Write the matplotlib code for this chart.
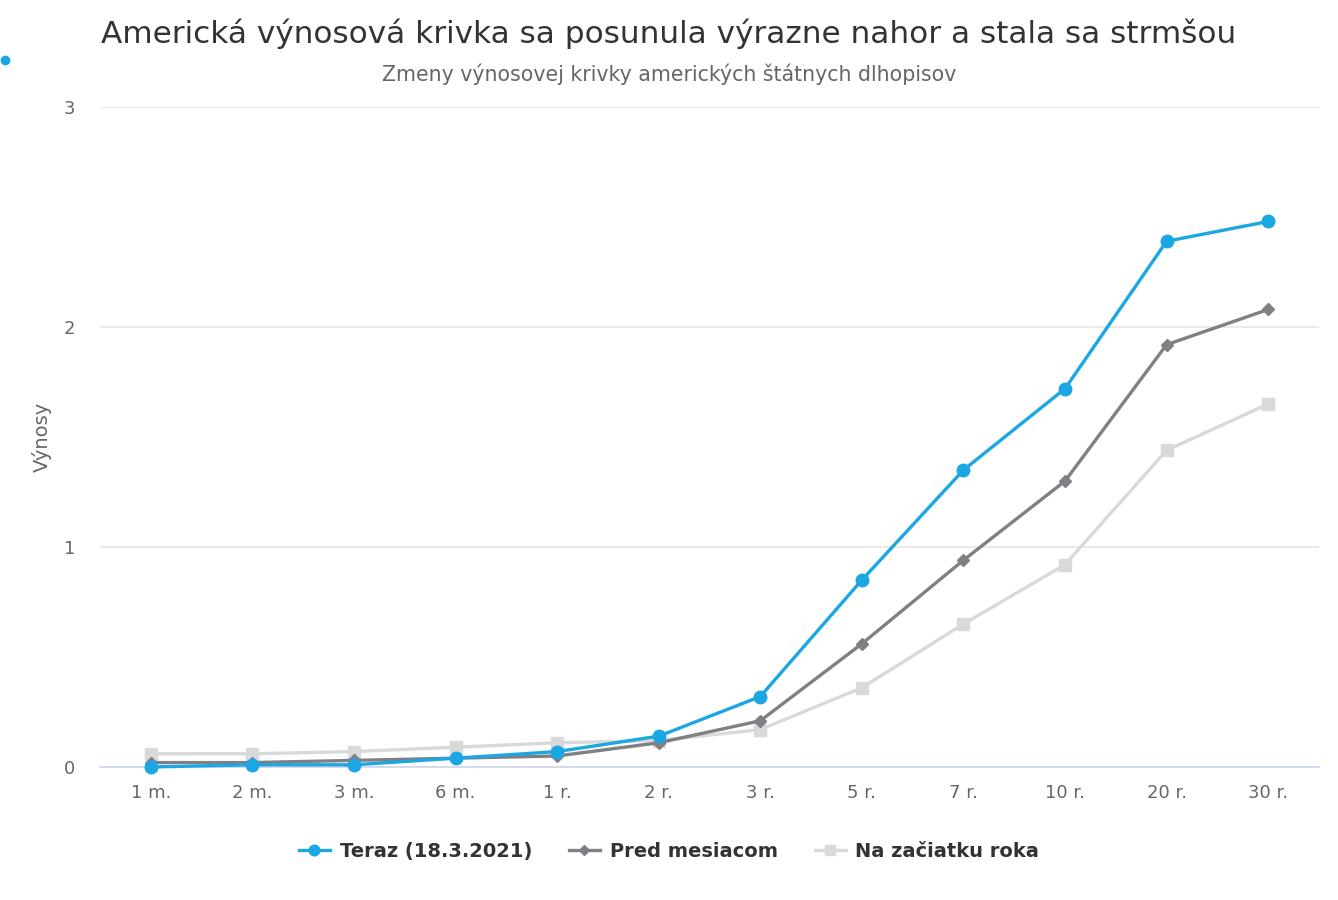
import matplotlib
matplotlib.use("Agg")
import matplotlib.pyplot as plt
from matplotlib.lines import Line2D

plt.rcParams['font.family'] = ['DejaVu Sans']

categories = ["1 m.", "2 m.", "3 m.", "6 m.", "1 r.", "2 r.", "3 r.", "5 r.", "7 r.", "10 r.", "20 r.", "30 r."]
teraz = [0.00, 0.01, 0.01, 0.04, 0.07, 0.14, 0.32, 0.85, 1.35, 1.72, 2.39, 2.48]
pred_mesiacom = [0.02, 0.02, 0.03, 0.04, 0.05, 0.11, 0.21, 0.56, 0.94, 1.30, 1.92, 2.08]
zaciatok_roka = [0.06, 0.06, 0.07, 0.09, 0.11, 0.12, 0.17, 0.36, 0.65, 0.92, 1.44, 1.65]

series_names = ["Teraz (18.3.2021)", "Pred mesiacom", "Na začiatku roka"]
colors = ["#1ba6e4", "#808084", "#d9d9d9"]
markers = ["o", "D", "s"]
msizes = [9, 6.5, 9]

fig = plt.figure(figsize=(13.38, 9), dpi=100)
ax = fig.add_axes([0.0747, 0.1478, 0.9111, 0.7332])

x = list(range(len(categories)))
data = [teraz, pred_mesiacom, zaciatok_roka]
for i in [2, 1, 0]:
    ax.plot(x, data[i], color=colors[i], lw=2.4, marker=markers[i], ms=msizes[i],
            zorder=3 + (2 - i), clip_on=False)

ax.set_xlim(-0.5, len(categories) - 0.5)
ax.set_ylim(0, 3)
ax.set_yticks([0, 1, 2, 3])
ax.set_xticks(x)
ax.set_xticklabels(categories)
ax.grid(axis='y', color='#e6e6e6', lw=1.2)
ax.set_axisbelow(True)
for s in ['top', 'right', 'left']:
    ax.spines[s].set_visible(False)
ax.spines['bottom'].set_color('#ccd6eb')
ax.spines['bottom'].set_linewidth(1.2)
ax.tick_params(axis='y', length=0, labelsize=13, labelcolor='#666666', pad=18)
ax.tick_params(axis='x', length=0, labelsize=13, labelcolor='#666666', pad=12)
ax.set_ylabel("Výnosy", fontsize=14, color='#666666', labelpad=8)

fig.text(0.5, 0.963, "Americká výnosová krivka sa posunula výrazne nahor a stala sa strmšou",
         ha='center', va='center', fontsize=22.4, color='#333333')
fig.text(0.5, 0.918, "Zmeny výnosovej krivky amerických štátnych dlhopisov",
         ha='center', va='center', fontsize=14.8, color='#666666')

# small dot in the top-left corner
fig.add_artist(Line2D([0.0037], [0.933], marker='o', ms=6, color='#1ba6e4',
                      transform=fig.transFigure, lw=0))

handles = [Line2D([0], [0], color=colors[i], lw=2.4, marker=markers[i], ms=msizes[i] * 0.85)
           for i in range(3)]
leg = fig.legend(handles, series_names, loc='center', bbox_to_anchor=(0.5, 0.054),
                 ncol=3, frameon=False, handlelength=1.6, columnspacing=1.9,
                 handletextpad=0.5, prop={'size': 14, 'weight': 'bold'})
for t in leg.get_texts():
    t.set_color('#333333')

fig.savefig("out.png", dpi=100)
